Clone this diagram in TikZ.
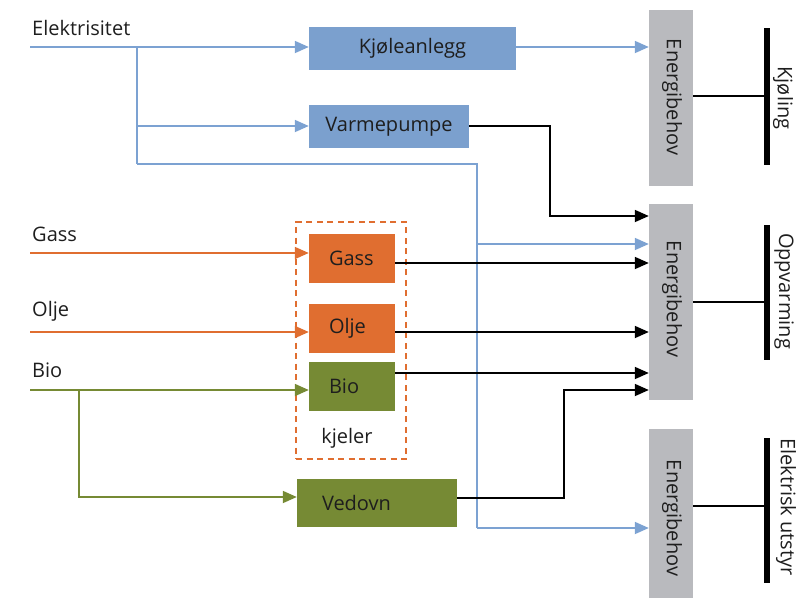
\documentclass[tikz,border=0pt]{standalone}
\usepackage{fontspec}
\setmainfont{Open Sans}
\usetikzlibrary{arrows.meta}
\definecolor{elblue}{RGB}{124,162,210}
\definecolor{boxblue}{RGB}{123,160,206}
\definecolor{fuel}{RGB}{224,110,48}
\definecolor{biogreen}{RGB}{118,138,52}
\definecolor{demand}{RGB}{185,186,190}
\definecolor{ink}{RGB}{30,30,30}

\begin{document}
\begin{tikzpicture}[x=1pt,y=-1pt,
  font=\fontsize{20}{24}\selectfont,
  unit/.style={rectangle, inner sep=0pt, text=ink, anchor=center},
  elbox/.style={unit, fill=boxblue},
  fuelbox/.style={unit, fill=fuel, align=left, inner xsep=20pt, text width=46pt},
  biobox/.style={unit, fill=biogreen, align=left, inner xsep=20pt, text width=46pt},
  needbox/.style={unit, fill=demand, minimum width=44pt},
  bar/.style={rectangle, fill=black, inner sep=0pt, minimum width=5.5pt},
  lbl/.style={text=ink, inner sep=0pt},
  sidelbl/.style={text=ink, inner sep=0pt, rotate=-90},
  flow/.style={line width=1.8pt, -{Triangle[length=14pt,width=12pt]}},
  feed/.style={line width=1.8pt},
  elline/.style={color=elblue},
  fuelline/.style={color=fuel},
  bioline/.style={color=biogreen},
  outline/.style={color=black}
]
\useasboundingbox (0,0) rectangle (798,600);

% energy demand columns and end-use bars
\node[needbox, minimum height=176pt] (e1) at (671,98) {};
\node[needbox, minimum height=196pt] (e2) at (671,302) {};
\node[needbox, minimum height=169pt] (e3) at (671,513.5) {};
\node[sidelbl] (t1) at (672,97) {Energibehov};
\node[sidelbl] (t2) at (672,299) {Energibehov};
\node[sidelbl] (t3) at (672,518) {Energibehov};

\node[bar, minimum height=137pt] (b1) at (767,96.5) {};
\node[bar, minimum height=135pt] (b2) at (767,292.5) {};
\node[bar, minimum height=145pt] (b3) at (767,510.5) {};
\node[sidelbl] (u1) at (783,98) {Kjøling};
\node[sidelbl] (u2) at (784,291) {Oppvarming};
\node[sidelbl] (u3) at (786,507) {Elektrisk utstyr};

\coordinate (c1) at (767,96);
\coordinate (c2) at (767,302);
\coordinate (c3) at (767,506);
\draw[feed, outline] (e1.east |- c1) -- (c1);
\draw[feed, outline] (e2.east |- c2) -- (c2);
\draw[feed, outline] (e3.east |- c3) -- (c3);

% conversion units
\node[elbox, minimum width=207pt, minimum height=43pt] (kj) at (412.5,48.5) {Kjøleanlegg};
\node[elbox, minimum width=160pt, minimum height=43pt] (vp) at (389,126.5) {Varmepumpe};
\node[fuelbox, minimum height=49pt] (gb) at (352,258.5) {Gass};
\node[fuelbox, minimum height=49pt] (ob) at (352,328.5) {Olje};
\node[biobox, minimum height=49pt] (bb) at (352,386.5) {Bio};
\node[unit, fill=biogreen, minimum width=160pt, minimum height=48pt, align=left,
      inner xsep=25pt, text width=110pt] (ve) at (377,503) {Vedovn};

% boiler group
\node[rectangle, draw=fuel, dashed, dash pattern=on 6pt off 4.5pt, line width=1.8pt,
      minimum width=110pt, minimum height=237pt, inner sep=0pt] (kg) at (351,340.5) {};
\node[lbl] (kl) at (347,438) {kjeler};

% energy carriers
\node[lbl, anchor=west] (le) at (32,28) {Elektrisitet};
\node[lbl, anchor=west] (lg) at (32,234) {Gass};
\node[lbl, anchor=west] (lo) at (32,311) {Olje};
\node[lbl, anchor=west] (lb) at (32,370) {Bio};

\coordinate (ein) at (30,47);
\coordinate (ej) at (137,47);
\coordinate (ek) at (137,164);
\coordinate (ev) at (477,164);
\coordinate (ed) at (477,528);
\coordinate (eo) at (477,244);
\coordinate (gin) at (30,253);
\coordinate (oin) at (30,332);
\coordinate (bin) at (30,390);
\coordinate (bj) at (79,390);
\coordinate (bv) at (79,497);

% electricity
\draw[feed, elline] (ein) -- (ej);
\draw[flow, elline] (ej) -- (kj.west |- ej);
\draw[feed, elline] (ej) -- (ek);
\draw[flow, elline] (137,126) -- (vp.west |- 0,126);
\draw[feed, elline] (ek) -- (ev) -- (ed);
\draw[flow, elline] (ed) -- (e3.west |- ed);
\draw[flow, elline] (eo) -- (e2.west |- eo);
\draw[flow, elline] (kj.east |- ej) -- (e1.west |- ej);

% fuels
\draw[flow, fuelline] (gin) -- (gb.west |- gin);
\draw[flow, fuelline] (oin) -- (ob.west |- oin);
\draw[feed, bioline] (bin) -- (bj);
\draw[flow, bioline] (bj) -- (bb.west |- bj);
\draw[flow, bioline] (bj) |- (ve.west |- bv);

% heat delivered
\draw[flow, outline] (vp.east |- 0,126) -- (550,126) |- (e2.west |- 0,216);
\draw[flow, outline] (gb.east |- 0,263) -- (e2.west |- 0,263);
\draw[flow, outline] (ob.east |- 0,332) -- (e2.west |- 0,332);
\draw[flow, outline] (bb.east |- 0,373) -- (e2.west |- 0,373);
\draw[flow, outline] (ve.east |- 0,498) -- (564,498) |- (e2.west |- 0,390);
\end{tikzpicture}
\end{document}
